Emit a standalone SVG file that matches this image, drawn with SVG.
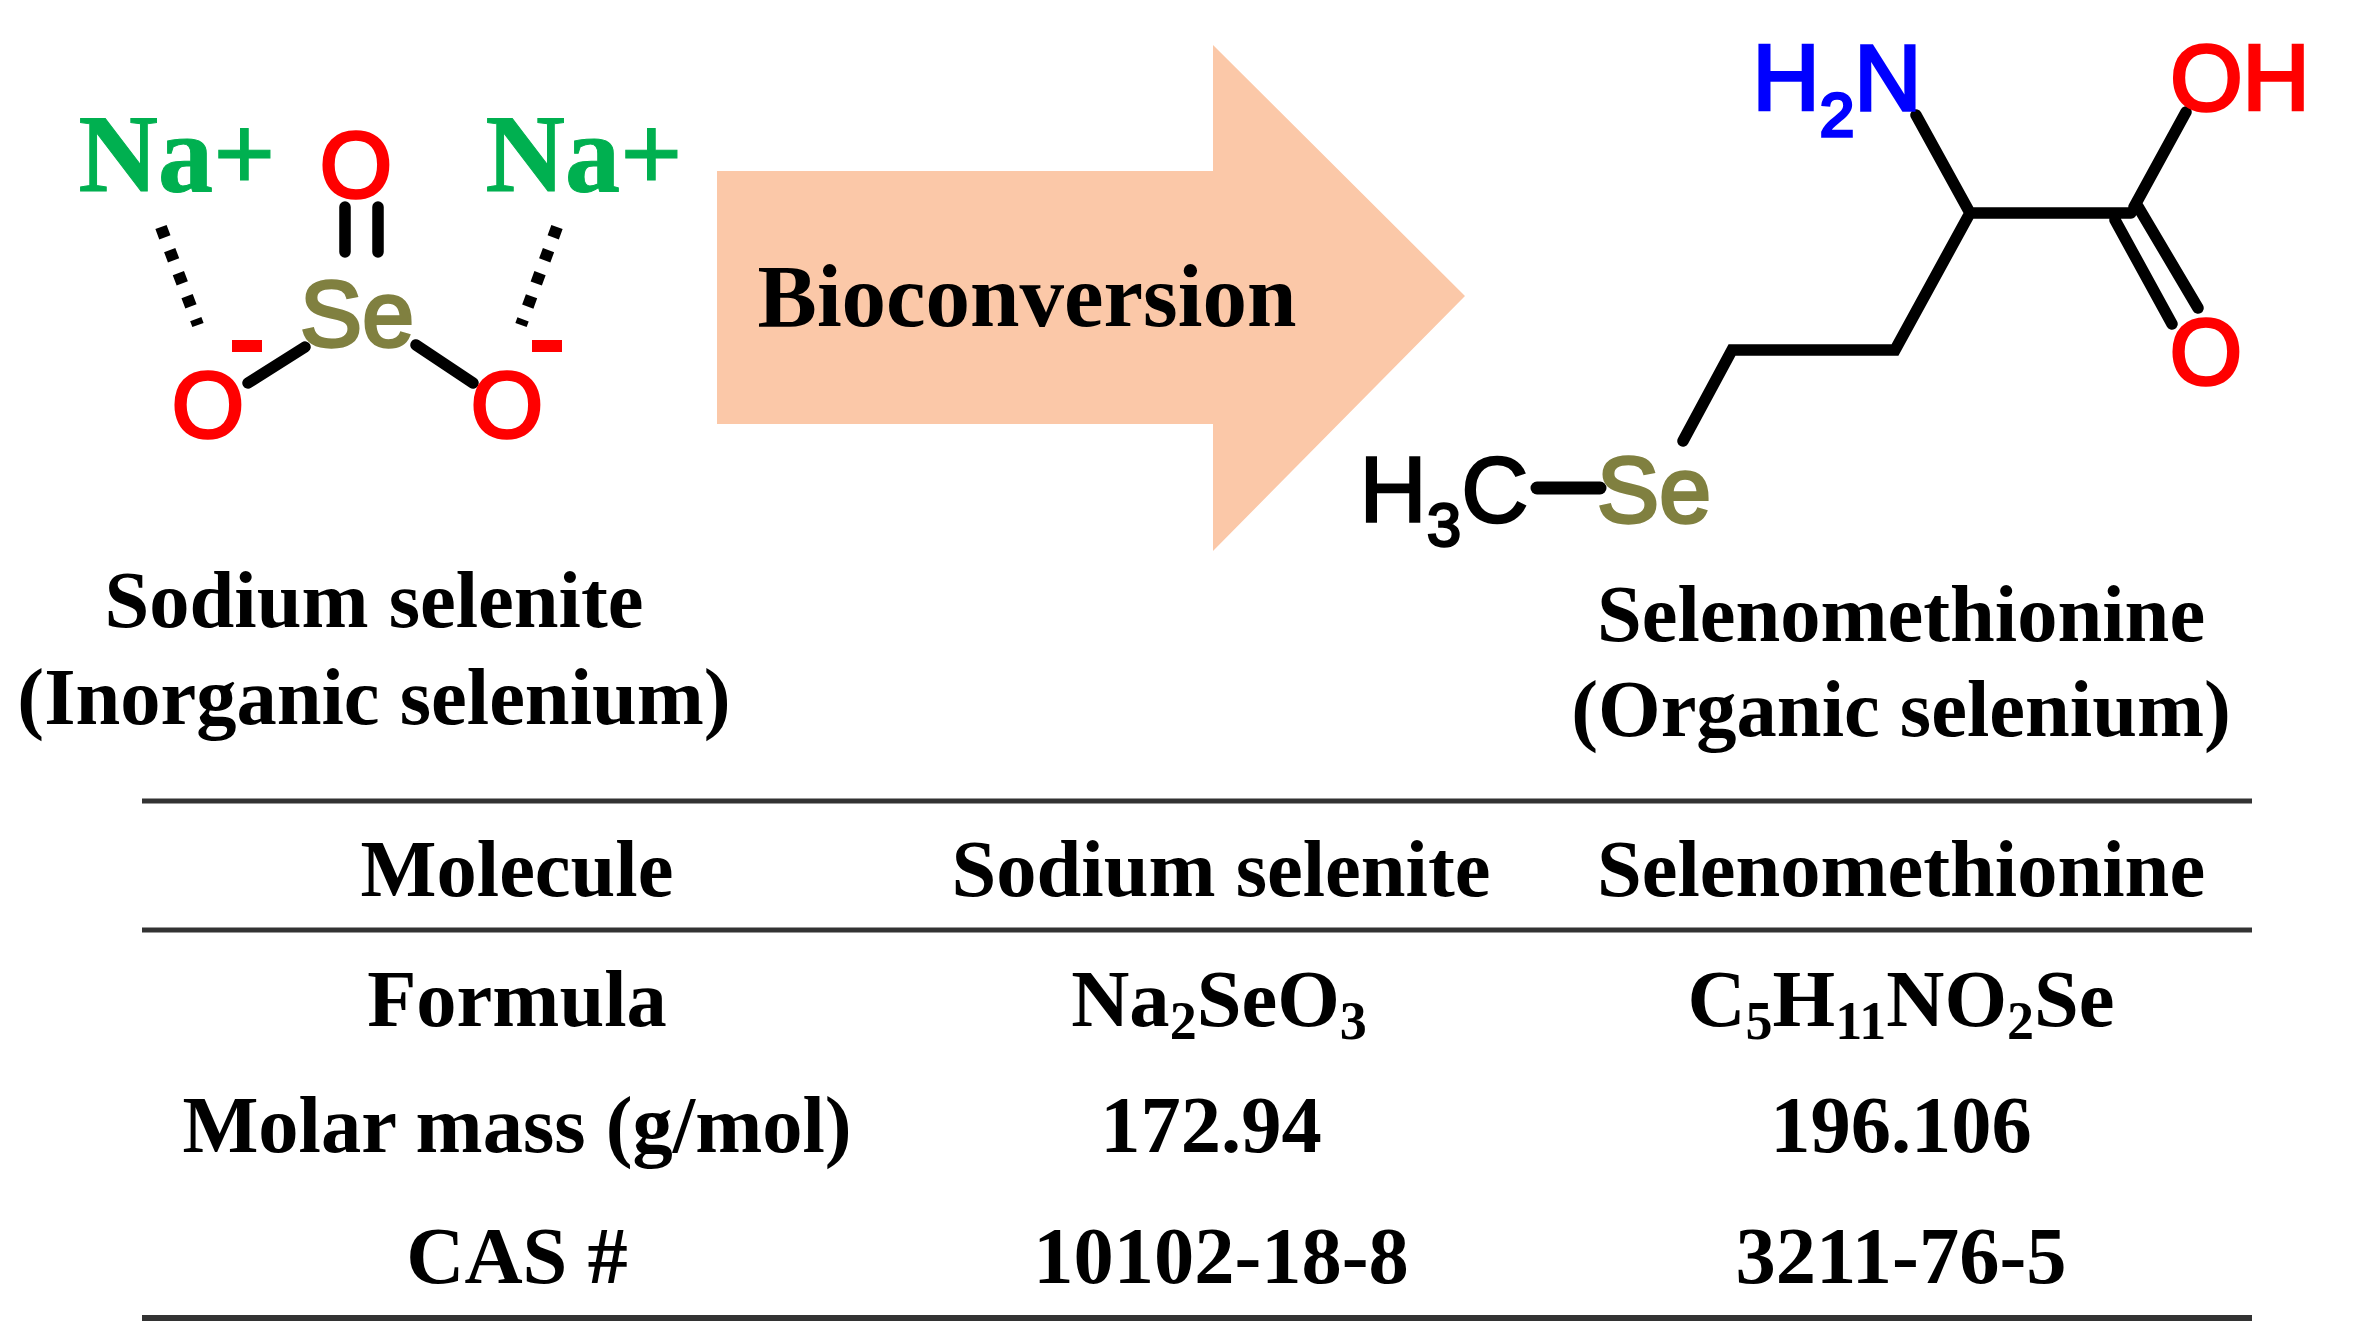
<svg xmlns="http://www.w3.org/2000/svg" width="2355" height="1342" viewBox="0 0 2355 1342">
<style>
.t{font-family:"Liberation Serif","Times New Roman",serif;font-weight:700;font-size:80.5px;fill:#000;text-anchor:middle}
.a{font-family:"Liberation Sans",Arial,sans-serif;font-size:93px;text-anchor:middle;stroke-width:3.4px}
.o{fill:#f00;stroke:#f00}.s{fill:#808040;stroke:#808040}.b{fill:#00f;stroke:#00f}.k{fill:#000;stroke:#000}
.na{font-size:110px;fill:#00b050;stroke:#00b050;stroke-width:1px}
.bond{fill:none;stroke:#000;stroke-width:11.5px;stroke-linecap:round;stroke-linejoin:miter}
.dash{fill:none;stroke:#000;stroke-width:12px;stroke-dasharray:11 13.6}
.rule{stroke:#333;stroke-width:5px}
</style>
<rect width="2355" height="1342" fill="#fff"/>
<g id="connectors">
<path class="bond" d="M345 207V252M378 207V252M305 347L248 383M416 345L473 383"/>
<path class="dash" d="M161 227L198 325M557 227L521 325"/>
<path class="bond" d="M1916 115L1970 213H2131M2134 207L2186 112M2137 205L2198 308M2115 220L2172 324M1970 213L1895 350H1732L1683 441"/>
<path class="bond" d="M1537 488H1600" stroke-linecap="butt" style="stroke-width:13px"/>
</g>
<g id="arrow"><path d="M717 171H1213V45L1465 296L1213 551V424H717Z" fill="#fbc8a8"/>
<text class="t" x="1027" y="326" style="font-size:89px">Bioconversion</text></g>
<g id="sodium-selenite">
<text class="t na" x="177" y="191">Na+</text>
<text class="t na" x="584" y="191">Na+</text>
<text class="a o" x="356" y="197">O</text>
<text class="a s" x="357" y="346">Se</text>
<text class="a o" x="208" y="437">O</text>
<text class="a o" x="507" y="437">O</text>
<rect x="232" y="340" width="30" height="12" fill="#f00"/>
<rect x="532" y="340" width="30" height="12" fill="#f00"/>
<text class="t" x="374" y="627">Sodium selenite</text>
<text class="t" x="374" y="724">(Inorganic selenium)</text>
</g>
<g id="selenomethionine">
<text class="a b" x="1837" y="110">H<tspan font-size="62" dy="26">2</tspan><tspan dy="-26">N</tspan></text>
<text class="a o" x="2240" y="110">OH</text>
<text class="a o" x="2206" y="384">O</text>
<text class="a k" x="1444" y="522" style="stroke-width:2.4px">H<tspan font-size="62" dy="24">3</tspan><tspan dy="-24">C</tspan></text>
<text class="a s" x="1654" y="522">Se</text>
<text class="t" x="1901" y="641">Selenomethionine</text>
<text class="t" x="1901" y="736">(Organic selenium)</text>
</g>
<g id="table">
<line class="rule" x1="142" y1="801" x2="2252" y2="801"/>
<line class="rule" x1="142" y1="930" x2="2252" y2="930"/>
<line class="rule" x1="142" y1="1318" x2="2252" y2="1318" style="stroke-width:6px"/>
<text class="t" x="517" y="896">Molecule</text>
<text class="t" x="1221" y="896">Sodium selenite</text>
<text class="t" x="1901" y="896">Selenomethionine</text>
<text class="t" x="517" y="1026">Formula</text>
<text class="t" x="1219" y="1026">Na<tspan font-size="54" dy="13">2</tspan><tspan dy="-13">SeO</tspan><tspan font-size="54" dy="13">3</tspan></text>
<text class="t" x="1901" y="1026">C<tspan font-size="54" dy="13">5</tspan><tspan dy="-13">H</tspan><tspan font-size="54" dy="13">11</tspan><tspan dy="-13">NO</tspan><tspan font-size="54" dy="13">2</tspan><tspan dy="-13">Se</tspan></text>
<text class="t" x="517" y="1152">Molar mass (g/mol)</text>
<text class="t" x="1211" y="1152">172.94</text>
<text class="t" x="1901" y="1152">196.106</text>
<text class="t" x="517" y="1283">CAS #</text>
<text class="t" x="1221" y="1283">10102-18-8</text>
<text class="t" x="1901" y="1283">3211-76-5</text>
</g>
</svg>
